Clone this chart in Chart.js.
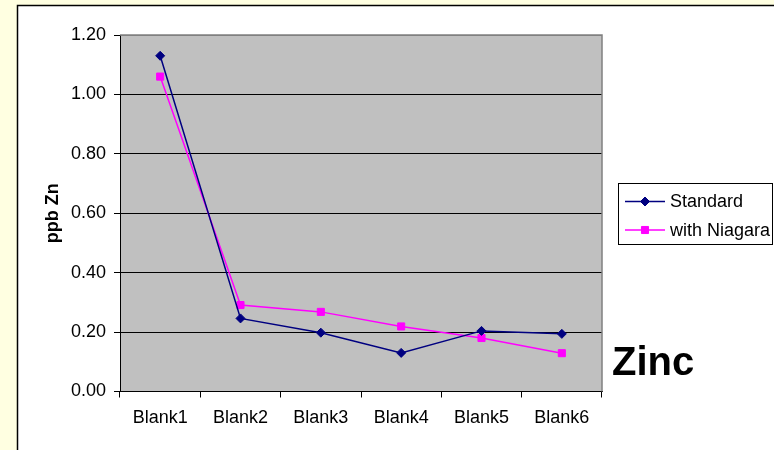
<!DOCTYPE html>
<html>
<head>
<meta charset="utf-8">
<title>Zinc</title>
<script src="https://cdn.jsdelivr.net/npm/chart.js@4/dist/chart.umd.min.js"></script>
<style>
  html, body { margin: 0; padding: 0; background: #FFFFE1; }
  #wrap { width: 774px; height: 450px; }
</style>
</head>
<body>
<div id="wrap"><canvas id="c" width="774" height="450"></canvas></div>
<script>
// Zinc blanks, ppb
const categories = ['Blank1', 'Blank2', 'Blank3', 'Blank4', 'Blank5', 'Blank6'];
const standardValues = [1.13, 0.246, 0.198, 0.130, 0.204, 0.194];
const niagaraValues = [1.06, 0.291, 0.268, 0.219, 0.180, 0.129];
const seriesNames = ['Standard', 'with Niagara'];
const yTicks = [0, 0.2, 0.4, 0.6, 0.8, 1.0, 1.2];
const chartTitle = 'Zinc';
const yTitle = 'ppb Zn';

const FONT = '"Liberation Sans", Arial, sans-serif';

// Page background, white panel, grey plot area
const backdrop = {
  id: 'backdrop',
  beforeDraw(chart) {
    const { ctx, chartArea: a, width, height } = chart;
    ctx.save();
    ctx.fillStyle = '#FFFFE1';
    ctx.fillRect(0, 0, width, height);
    ctx.fillStyle = '#FFFFFF';
    ctx.fillRect(18, 5, width - 18, height - 5);
    ctx.strokeStyle = '#000000';
    ctx.lineWidth = 1.5;
    ctx.beginPath();
    ctx.moveTo(17.5, height);
    ctx.lineTo(17.5, 5.5);
    ctx.lineTo(width, 5.5);
    ctx.stroke();
    ctx.fillStyle = '#C0C0C0';
    ctx.fillRect(a.left, a.top, a.right - a.left, a.bottom - a.top);
    ctx.restore();
  },
  beforeDatasetsDraw(chart) {
    const { ctx, chartArea: a } = chart;
    ctx.save();
    ctx.strokeStyle = '#808080';
    ctx.lineWidth = 1.5;
    ctx.beginPath();
    ctx.moveTo(a.left, a.top);
    ctx.lineTo(a.right, a.top);
    ctx.lineTo(a.right, a.bottom);
    ctx.stroke();
    ctx.restore();
  }
};

// Boxed legend on the right and the large title text
const sideLegend = {
  id: 'sideLegend',
  afterDraw(chart) {
    const { ctx } = chart;
    ctx.save();
    const bx = 618.5, by = 183.5, bw = 154, bh = 61;
    ctx.fillStyle = '#FFFFFF';
    ctx.fillRect(bx, by, bw, bh);
    ctx.strokeStyle = '#000000';
    ctx.lineWidth = 1;
    ctx.strokeRect(bx, by, bw, bh);
    const rows = [201.5, 230];
    chart.data.datasets.forEach((ds, i) => {
      const y = rows[i];
      ctx.strokeStyle = ds.borderColor;
      ctx.lineWidth = ds.borderWidth;
      ctx.beginPath();
      ctx.moveTo(625, y);
      ctx.lineTo(665, y);
      ctx.stroke();
      ctx.fillStyle = ds.pointBackgroundColor;
      ctx.strokeStyle = ds.pointBorderColor;
      ctx.lineWidth = ds.pointBorderWidth;
      Chart.helpers.drawPoint(ctx, {
        pointStyle: ds.pointStyle,
        radius: ds.pointRadius,
        rotation: 0,
        borderWidth: ds.pointBorderWidth
      }, 645, y);
      ctx.fillStyle = '#000000';
      ctx.font = '18px ' + FONT;
      ctx.textAlign = 'left';
      ctx.textBaseline = 'middle';
      ctx.fillText(ds.label, 670, y + 1);
    });
    ctx.fillStyle = '#000000';
    ctx.font = 'bold 40px ' + FONT;
    ctx.textAlign = 'left';
    ctx.textBaseline = 'alphabetic';
    ctx.fillText(chartTitle, 612, 375);
    ctx.restore();
  }
};

new Chart(document.getElementById('c'), {
  type: 'line',
  data: {
    labels: categories,
    datasets: [
      {
        label: seriesNames[0],
        data: standardValues,
        borderColor: '#000080',
        backgroundColor: '#000080',
        pointBackgroundColor: '#000080',
        pointBorderColor: '#000080',
        borderWidth: 1.5,
        pointStyle: 'rectRot',
        pointRadius: 4.5,
        pointBorderWidth: 1,
        tension: 0
      },
      {
        label: seriesNames[1],
        data: niagaraValues,
        borderColor: '#FF00FF',
        backgroundColor: '#FF00FF',
        pointBackgroundColor: '#FF00FF',
        pointBorderColor: '#FF00FF',
        borderWidth: 1.5,
        pointStyle: 'rect',
        pointRadius: 5,
        pointBorderWidth: 1,
        tension: 0
      }
    ]
  },
  options: {
    responsive: false,
    animation: false,
    layout: { padding: { top: 35, right: 172, bottom: 0, left: 0 } },
    plugins: {
      legend: { display: false },
      title: { display: false },
      tooltip: { enabled: false }
    },
    scales: {
      x: {
        offset: true,
        grid: {
          offset: true,
          drawOnChartArea: false,
          drawTicks: true,
          tickLength: 6,
          tickColor: '#000000',
          color: '#000000'
        },
        border: { color: '#000000', width: 1 },
        ticks: {
          color: '#000000',
          font: { family: FONT, size: 18 },
          padding: 10,
          maxRotation: 0
        },
        afterFit(scale) { scale.height = 58.5; }
      },
      y: {
        min: 0,
        max: 1.2,
        afterBuildTicks(scale) { scale.ticks = yTicks.map(v => ({ value: v })); },
        grid: {
          color: ctx => (ctx.tick && ctx.tick.value === 1.2 ? '#808080' : '#000000'),
          tickColor: '#000000',
          tickLength: 6,
          drawTicks: true
        },
        border: { color: '#000000', width: 1 },
        ticks: {
          color: '#000000',
          font: { family: FONT, size: 18 },
          padding: 8,
          callback: v => Number(v).toFixed(2)
        },
        title: {
          display: true,
          text: yTitle,
          color: '#000000',
          font: { family: FONT, size: 18, weight: 'bold' },
          padding: { top: 42, bottom: 0 }
        },
        afterFit(scale) { scale.width = 120; }
      }
    }
  },
  plugins: [backdrop, sideLegend]
});
</script>
</body>
</html>
